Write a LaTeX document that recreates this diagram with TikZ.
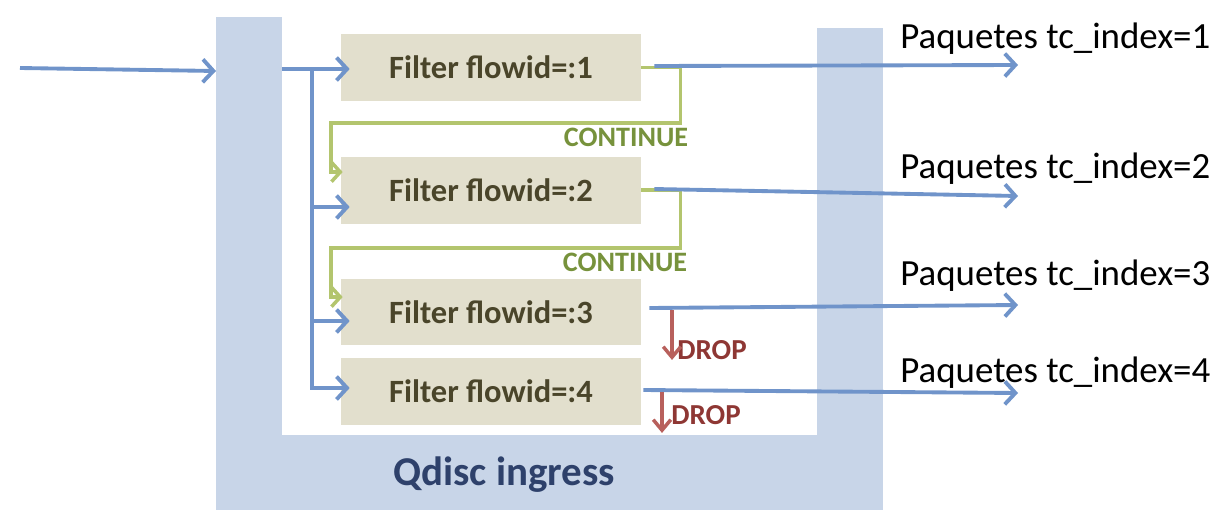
\documentclass[tikz,border=0pt]{standalone}
\usepackage{fontspec}
\setmainfont{Carlito}
\usepackage{tikz}
\usetikzlibrary{arrows.meta, positioning, calc}
\definecolor{qdiscfill}{HTML}{C8D5E8}
\definecolor{qdisctext}{HTML}{2E416B}
\definecolor{filterfill}{HTML}{E2DFCD}
\definecolor{filtertext}{HTML}{4A452A}
\definecolor{flowblue}{HTML}{7094CA}
\definecolor{contline}{HTML}{B3C56E}
\definecolor{conttext}{HTML}{77923C}
\definecolor{dropline}{HTML}{B8605C}
\definecolor{droptext}{HTML}{8E3734}

\begin{document}
\begin{tikzpicture}[
          x=0.02cm, y=-0.02cm,
          filter/.style={fill=filterfill, minimum width=6cm, minimum height=1.33cm, inner sep=0pt,
            text=filtertext, font=\bfseries\fontsize{18.5}{20}\selectfont},
          flow/.style={draw=flowblue, line width=2.2pt, -{Straight Barb[length=6pt, width=13pt]}},
          cont/.style={draw=contline, line width=2pt, -{Straight Barb[length=5pt, width=11pt]}},
          drop/.style={draw=dropline, line width=2pt, -{Straight Barb[length=6pt, width=10pt]}},
          contlabel/.style={text=conttext, font=\bfseries\fontsize{16}{18}\selectfont, inner sep=0pt},
          droplabel/.style={text=droptext, font=\bfseries\fontsize{16.5}{18}\selectfont, inner sep=0pt, anchor=west},
          outlabel/.style={font=\fontsize{21}{24}\selectfont, inner sep=0pt, anchor=base west}
        ]
          \useasboundingbox (0,0) rectangle (1226,524);

          \fill[qdiscfill] (216,17) rectangle (282,510);
          \fill[qdiscfill] (216,435) rectangle (883,510);
          \fill[qdiscfill] (817,28) rectangle (883,510);
          \node[text=qdisctext, font=\bfseries\fontsize{23.3}{26}\selectfont] (qdisc) at (504,475) {Qdisc ingress};

          \node[filter] (f1) at (491,67.5) {Filter flowid=:1};
          \node[filter] (f2) at (491,190.5) {Filter flowid=:2};
          \node[filter] (f3) at (491,312) {Filter flowid=:3};
          \node[filter] (f4) at (491,391.5) {Filter flowid=:4};

          \coordinate (src) at (20,68);
          \coordinate (qin) at (216,71);
          \coordinate (qout) at (282,69);
          \coordinate (split) at (312,69);
          \draw[flow] (src) -- (qin);
          \draw[flow] (qout) -- ($(f1.west)+(9,1.5)$);
          \draw[flow] (split) |- ($(f2.west)+(9,16.5)$);
          \draw[flow] (split) |- ($(f3.west)+(9,9)$);
          \draw[flow] (split) |- ($(f4.west)+(9,-3.5)$);

          \draw[cont] (f1.east) -- ++(39,0) |- (331,123) -- (331,172) -- ($(f2.west)+(2,-18.5)$);
          \draw[cont] ($(f2.east)+(0,-0.5)$) -- ++(39,0) |- (331,248) -- (331,297) -- ($(f3.west)+(2,-15)$);
          \node[contlabel] (cont1) at (626,137) {CONTINUE};
          \node[contlabel] (cont2) at (625,262) {CONTINUE};

          \node[outlabel] (p1) at (900,48) {Paquetes tc\_index=1};
          \node[outlabel] (p2) at (900,178) {Paquetes tc\_index=2};
          \node[outlabel] (p3) at (900,285) {Paquetes tc\_index=3};
          \node[outlabel] (p4) at (900,382) {Paquetes tc\_index=4};

          \coordinate (o1) at (1018,65);
          \coordinate (o2) at (1018,196);
          \coordinate (o3) at (1018,305);
          \coordinate (o4) at (1018,393);
          \draw[flow] ($(f1.east)+(13,-1.5)$) -- (o1);
          \draw[flow] ($(f2.east)+(13,-1.5)$) -- (o2);
          \draw[flow] ($(f3.east)+(8,-4)$) -- (o3);
          \draw[flow] ($(f4.east)+(2,-1.5)$) -- (o4);

          \coordinate (d3) at (672,310);
          \coordinate (d4) at (662,392);
          \node[droplabel] (drop3) at (677,350) {DROP};
          \node[droplabel] (drop4) at (671,415) {DROP};
          \draw[drop] (d3) -- (d3 |- drop3.south);
          \draw[drop] (d4) -- ($(d4 |- drop4.south)+(0,8)$);
        \end{tikzpicture}
\end{document}
